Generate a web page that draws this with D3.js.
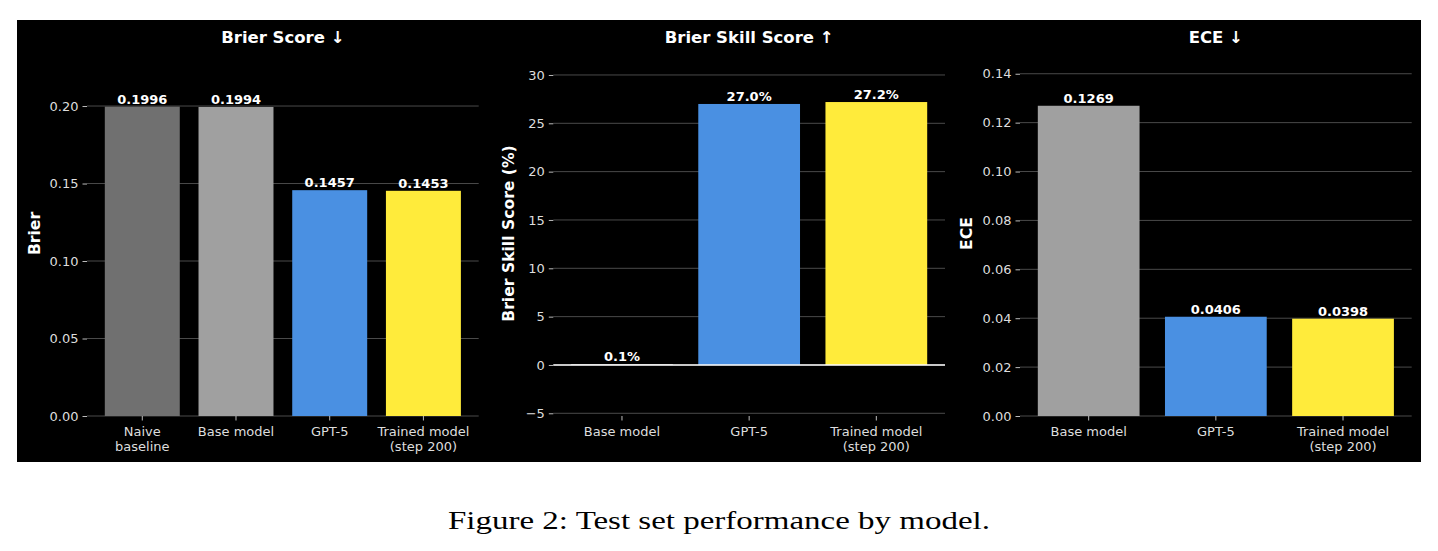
<!DOCTYPE html>
<html>
<head>
<meta charset="utf-8">
<script src="https://cdn.jsdelivr.net/npm/d3@7"></script>
<style>
  body { margin: 0; background: #fff; }
  svg { display: block; }
</style>
</head>
<body>
<svg id="chart" width="1438" height="551"></svg>
<script>
// data
var brierModels = ["Naive\nbaseline", "Base model", "GPT-5", "Trained model\n(step 200)"];
var brierValues = [0.1996, 0.1994, 0.1457, 0.1453];
var brierColors = ["#707070", "#a0a0a0", "#4a90e2", "#ffeb3b"];
var brierTicks = [0, 0.05, 0.10, 0.15, 0.20];

var otherModels = ["Base model", "GPT-5", "Trained model\n(step 200)"];
var otherColors = ["#a0a0a0", "#4a90e2", "#ffeb3b"];
var bssValues = [0.1, 27.0, 27.2];
var bssTicks = [-5, 0, 5, 10, 15, 20, 25, 30];
var eceValues = [0.1269, 0.0406, 0.0398];
var eceTicks = [0, 0.02, 0.04, 0.06, 0.08, 0.10, 0.12, 0.14];

var svg = d3.select("#chart");
var font = "'DejaVu Sans', sans-serif";

// black figure background
svg.append("rect")
    .attr("x", 17).attr("y", 20)
    .attr("width", 1404).attr("height", 442)
    .attr("fill", "#000");

var axTop = 51, axBottom = 416, axW = 391.7;

var panels = [
    { title: "Brier Score \u2193", ylabel: "Brier", left: 87, labelOff: 52.7,
      models: brierModels, values: brierValues, colors: brierColors,
      domain: [0, 0.2355], ticks: brierTicks, tickFmt: d3.format(".2f"),
      valFmt: d3.format(".4f"), zero: false },
    { title: "Brier Skill Score \u2191", ylabel: "Brier Skill Score (%)", left: 553.3, labelOff: 45,
      models: otherModels, values: bssValues, colors: otherColors,
      domain: [-5.28, 32.48], ticks: bssTicks, tickFmt: function(d) { return d < 0 ? "\u2212" + Math.abs(d) : d; },
      valFmt: function(d) { return d.toFixed(1) + "%"; }, zero: true },
    { title: "ECE \u2193", ylabel: "ECE", left: 1020, labelOff: 53.3,
      models: otherModels, values: eceValues, colors: otherColors,
      domain: [0, 0.1493], ticks: eceTicks, tickFmt: d3.format(".2f"),
      valFmt: d3.format(".4f"), zero: false }
];

panels.forEach(function(p) {
    var n = p.models.length;
    var g = svg.append("g").attr("transform", "translate(" + p.left + ",0)");

    var x = d3.scaleBand()
        .domain(p.models)
        .range([0, axW])
        .paddingInner(0.2)
        .paddingOuter(0.05 * (n - 0.2));
    var y = d3.scaleLinear().domain(p.domain).range([axBottom, axTop]);

    // grid behind bars
    g.selectAll("line.grid").data(p.ticks).enter().append("line")
        .attr("class", "grid")
        .attr("x1", 0).attr("x2", axW)
        .attr("y1", function(d) { return y(d); })
        .attr("y2", function(d) { return y(d); })
        .attr("stroke", "#4a4a4a")
        .attr("stroke-width", 1);

    // y axis
    var yAxis = g.append("g")
        .call(d3.axisLeft(y).tickValues(p.ticks).tickFormat(p.tickFmt).tickSize(4.5).tickPadding(4));
    yAxis.select(".domain").remove();
    yAxis.selectAll(".tick line").attr("stroke", "#bbb");
    yAxis.selectAll(".tick text")
        .attr("fill", "#ddd")
        .style("font-family", font)
        .style("font-size", "13px");

    // bars
    var vals = p.values.map(function(v, i) { return { m: p.models[i], v: v, c: p.colors[i] }; });
    g.selectAll("rect.bar").data(vals).enter().append("rect")
        .attr("class", "bar")
        .attr("x", function(d) { return x(d.m); })
        .attr("width", x.bandwidth())
        .attr("y", function(d) { return y(Math.max(0, d.v)); })
        .attr("height", function(d) { return Math.max(1, Math.abs(y(d.v) - y(0))); })
        .attr("fill", function(d) { return d.c; });

    if (p.zero) {
        g.append("line")
            .attr("x1", 0).attr("x2", axW)
            .attr("y1", y(0)).attr("y2", y(0))
            .attr("stroke", "#fff")
            .attr("stroke-width", 1.5);
    }

    // value labels
    g.selectAll("text.val").data(vals).enter().append("text")
        .attr("class", "val")
        .attr("x", function(d) { return x(d.m) + x.bandwidth() / 2; })
        .attr("y", function(d) { return y(d.v) - 3; })
        .attr("text-anchor", "middle")
        .attr("fill", "#fff")
        .style("font-family", font)
        .style("font-size", "13px")
        .style("font-weight", "bold")
        .text(function(d) { return p.valFmt(d.v); });

    // x axis
    var xAxis = g.append("g")
        .attr("transform", "translate(0," + axBottom + ")")
        .call(d3.axisBottom(x).tickSize(4.5).tickPadding(4));
    xAxis.select(".domain").remove();
    xAxis.selectAll(".tick line").attr("stroke", "#bbb");
    xAxis.selectAll(".tick text").each(function(d) {
        var t = d3.select(this).text("")
            .attr("fill", "#ddd")
            .attr("y", 19.5)
            .attr("dy", null)
            .style("font-family", font)
            .style("font-size", "13px");
        d.split("\n").forEach(function(line, i) {
            t.append("tspan").attr("x", 0).attr("dy", i === 0 ? 0 : 15.2).text(line);
        });
    });

    // title
    g.append("text")
        .attr("x", axW / 2)
        .attr("y", 42.5)
        .attr("text-anchor", "middle")
        .attr("fill", "#fff")
        .style("font-family", font)
        .style("font-size", "16.5px")
        .style("font-weight", "bold")
        .text(p.title);

    // y label
    g.append("text")
        .attr("transform", "translate(" + (-p.labelOff) + "," + ((axTop + axBottom) / 2) + ") rotate(-90)")
        .attr("text-anchor", "middle")
        .attr("dy", "0.35em")
        .attr("fill", "#fff")
        .style("font-family", font)
        .style("font-size", "15.6px")
        .style("font-weight", "bold")
        .text(p.ylabel);
});

// caption
svg.append("text")
    .attr("x", 719)
    .attr("y", 529)
    .attr("text-anchor", "middle")
    .attr("fill", "#000")
    .attr("textLength", 542)
    .attr("lengthAdjust", "spacingAndGlyphs")
    .style("font-family", "'Liberation Serif', 'DejaVu Serif', serif")
    .style("font-size", "26px")
    .text("Figure 2: Test set performance by model.");
</script>
</body>
</html>
